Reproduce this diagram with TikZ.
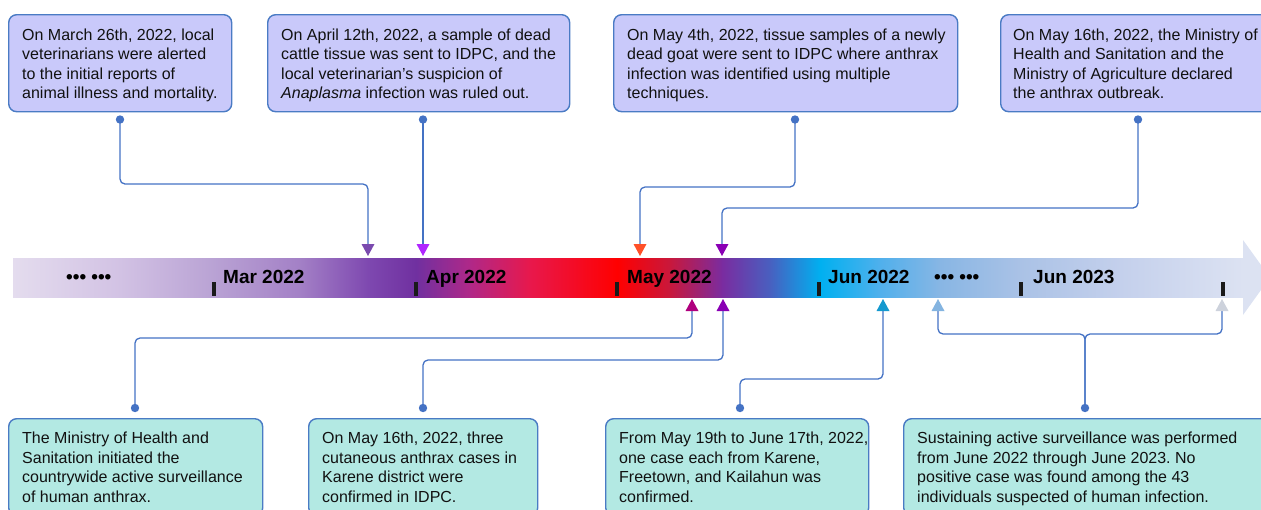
\documentclass[tikz,border=0pt]{standalone}
\usepackage{fontspec}
\setmainfont{Liberation Sans}
\frenchspacing
\definecolor{boxline}{HTML}{4A7BC4}
\definecolor{topfill}{HTML}{C9C9FA}
\definecolor{botfill}{HTML}{B3E9E3}
\definecolor{connc}{HTML}{4472C4}
\definecolor{textc}{HTML}{111111}
\definecolor{tickc}{HTML}{1A1A1A}
\definecolor{s0}{HTML}{E4DCEE}
\definecolor{s1}{HTML}{D2C2E4}
\definecolor{s2}{HTML}{B9A2D4}
\definecolor{s3}{HTML}{A380C6}
\definecolor{s4}{HTML}{7E48B0}
\definecolor{s5}{HTML}{7030A0}
\definecolor{s6}{HTML}{B02888}
\definecolor{s7}{HTML}{E8184C}
\definecolor{s8}{HTML}{FF0000}
\definecolor{s9}{HTML}{C8183C}
\definecolor{s10}{HTML}{7A2CA0}
\definecolor{s11}{HTML}{4860C0}
\definecolor{s12}{HTML}{00B0F0}
\definecolor{s13}{HTML}{50B0EC}
\definecolor{s14}{HTML}{88B6E4}
\definecolor{s15}{HTML}{AAC2E6}
\definecolor{s16}{HTML}{C4D0EC}
\definecolor{s17}{HTML}{DCE2F2}
\definecolor{ar1}{HTML}{7A4AAE}
\definecolor{ar2}{HTML}{B026FF}
\definecolor{ar3}{HTML}{FF5028}
\definecolor{ar4}{HTML}{8A00B4}
\definecolor{ar5}{HTML}{B0007E}
\definecolor{ar6}{HTML}{8A00B4}
\definecolor{ar7}{HTML}{1499CF}
\definecolor{ar8}{HTML}{84B4E0}
\definecolor{ar9}{HTML}{CDD2DC}
\begin{document}
\begin{tikzpicture}[x=1pt,y=-1pt,
  boxbase/.style={draw=boxline, line width=1.4pt, rounded corners=8pt, anchor=north west, minimum height=97pt, inner sep=0pt},
  topbox/.style={boxbase, fill=topfill},
  botbox/.style={boxbase, fill=botfill},
  txt/.style={anchor=north west, align=left, inner sep=0pt, text=textc, font=\fontsize{16}{19.5}\selectfont},
  lbl/.style={anchor=base west, inner sep=0pt, text=black, font=\fontsize{19}{22}\selectfont\bfseries},
  conn/.style={draw=connc, line width=1.3pt, rounded corners=5pt},
  dotc/.style={fill=connc},
  tick/.style={fill=tickc}
]
\useasboundingbox (0,0) rectangle (1261,509);
\clip (0,0) rectangle (1261,509);

% ---- timeline bar ----
\fill[left color=s0, right color=s1] (13,258) rectangle (120.5,297);
\fill[left color=s1, right color=s2] (120,258) rectangle (214.5,297);
\fill[left color=s2, right color=s3] (214,258) rectangle (300.5,297);
\fill[left color=s3, right color=s4] (300,258) rectangle (368.5,297);
\fill[left color=s4, right color=s5] (368,258) rectangle (416.5,297);
\fill[left color=s5, right color=s6] (416,258) rectangle (470.5,297);
\fill[left color=s6, right color=s7] (470,258) rectangle (530.5,297);
\fill[left color=s7, right color=s8] (530,258) rectangle (617.5,297);
\fill[left color=s8, right color=s9] (617,258) rectangle (670.5,297);
\fill[left color=s9, right color=s10] (670,258) rectangle (722.5,297);
\fill[left color=s10, right color=s11] (722,258) rectangle (770.5,297);
\fill[left color=s11, right color=s12] (770,258) rectangle (820.5,297);
\fill[left color=s12, right color=s13] (820,258) rectangle (880.5,297);
\fill[left color=s13, right color=s14] (880,258) rectangle (940.5,297);
\fill[left color=s14, right color=s15] (940,258) rectangle (1020.5,297);
\fill[left color=s15, right color=s16] (1020,258) rectangle (1120.5,297);
\fill[left color=s16, right color=s17] (1120,258) rectangle (1243.5,297);
\fill[s17] (1243,240) -- (1270,277.5) -- (1243,315) -- cycle;

% ticks
\foreach \tx in {214,416,617,819,1021,1223}
  \fill[tick] (\tx-1.7,282) rectangle (\tx+1.7,296);

% bar labels
\node[lbl] (ldots1) at (66,283) {••• •••};
\node[lbl] (lmar) at (223,283) {Mar 2022};
\node[lbl] (lapr) at (426,283) {Apr 2022};
\node[lbl] (lmay) at (627,283) {May 2022};
\node[lbl] (ljun) at (828,283) {Jun 2022};
\node[lbl] (ldots2) at (934,283) {••• •••};
\node[lbl] (ljun3) at (1033,283) {Jun 2023};

% ---- top boxes ----
\node[topbox, minimum width=223pt] (t1) at (8,14) {};
\node[txt] (t1x) at (22,28.3) {On March 26th, 2022, local\\veterinarians were alerted\\to the initial reports of\\animal illness and mortality.};
\node[topbox, minimum width=302pt] (t2) at (267,14) {};
\node[txt] (t2x) at (281,28.3) {On April 12th, 2022, a sample of dead\\cattle tissue was sent to IDPC, and the\\local veterinarian’s suspicion of\\\textit{Anaplasma} infection was ruled out.};
\node[topbox, minimum width=344pt] (t3) at (613,14) {};
\node[txt] (t3x) at (627,28.3) {On May 4th, 2022, tissue samples of a newly\\dead goat were sent to IDPC where anthrax\\infection was identified using multiple\\techniques.};
\node[topbox, minimum width=275pt] (t4) at (1000,14) {};
\node[txt] (t4x) at (1013,28.3) {On May 16th, 2022, the Ministry of\\Health and Sanitation and the\\Ministry of Agriculture declared\\the anthrax outbreak.};

% ---- bottom boxes ----
\node[botbox, minimum width=254pt] (b1) at (8,418) {};
\node[txt] (b1x) at (22,432) {The Ministry of Health and\\Sanitation initiated the\\countrywide active surveillance\\of human anthrax.};
\node[botbox, minimum width=229pt] (b2) at (308,418) {};
\node[txt] (b2x) at (322,432) {On May 16th, 2022, three\\cutaneous anthrax cases in\\Karene district were\\confirmed in IDPC.};
\node[botbox, minimum width=263pt] (b3) at (605,418) {};
\node[txt] (b3x) at (619,432) {From May 19th to June 17th, 2022,\\one case each from Karene,\\Freetown, and Kailahun was\\confirmed.};
\node[botbox, minimum width=380pt] (b4) at (903,418) {};
\node[txt] (b4x) at (917,432) {Sustaining active surveillance was performed\\from June 2022 through June 2023. No\\positive case was found among the 43\\individuals suspected of human infection.};

% ---- coordinates ----
\coordinate (d1) at (120,119.5);
\coordinate (d2) at (423,119.5);
\coordinate (d3) at (795,119.5);
\coordinate (d4) at (1138,119.5);
\coordinate (y1) at (0,184);
\coordinate (y3) at (0,187);
\coordinate (y4) at (0,208);
\coordinate (p1) at (368,256);
\coordinate (p2) at (423,256);
\coordinate (p3) at (640,256);
\coordinate (p4) at (722,256);
\coordinate (h1) at (368,245);
\coordinate (h2) at (423,245);
\coordinate (h3) at (640,245);
\coordinate (h4) at (722,245);

\coordinate (dA) at (135,408);
\coordinate (dB) at (423,408);
\coordinate (dC) at (740,408);
\coordinate (dD) at (1085,408);
\coordinate (yA) at (0,338);
\coordinate (yB) at (0,360);
\coordinate (yC) at (0,379);
\coordinate (yD) at (0,334);
\coordinate (pA) at (692,299);
\coordinate (pB) at (723,299);
\coordinate (pC) at (883,299);
\coordinate (pD1) at (938,299);
\coordinate (pD2) at (1222,299);
\coordinate (hA) at (692,310);
\coordinate (hB) at (723,310);
\coordinate (hC) at (883,310);
\coordinate (hD1) at (938,310);
\coordinate (hD2) at (1222,310);

% ---- connectors (top) ----
\draw[conn] (d1) -- (d1 |- y1) -| (h1);
\draw[conn] (d2) -- (h2);
\draw[conn] (d3) -- (d3 |- y3) -| (h3);
\draw[conn] (d4) -- (d4 |- y4) -| (h4);
% ---- connectors (bottom) ----
\draw[conn] (dA) -- (dA |- yA) -| (hA);
\draw[conn] (dB) -- (dB |- yB) -| (hB);
\draw[conn] (dC) -- (dC |- yC) -| (hC);
\draw[conn] (dD) -- (dD |- yD) -| (hD1);
\draw[conn] (dD) -- (dD |- yD) -| (hD2);

% dots
\foreach \d in {d1,d2,d3,d4,dA,dB,dC,dD}
  \fill[dotc] (\d) circle (4.2);

% arrowheads
\fill[ar1] (p1) -- ++(-6.5,-12) -- ++(13,0) -- cycle;
\fill[ar2] (p2) -- ++(-6.5,-12) -- ++(13,0) -- cycle;
\fill[ar3] (p3) -- ++(-6.5,-12) -- ++(13,0) -- cycle;
\fill[ar4] (p4) -- ++(-6.5,-12) -- ++(13,0) -- cycle;
\fill[ar5] (pA) -- ++(-6.5,12) -- ++(13,0) -- cycle;
\fill[ar6] (pB) -- ++(-6.5,12) -- ++(13,0) -- cycle;
\fill[ar7] (pC) -- ++(-6.5,12) -- ++(13,0) -- cycle;
\fill[ar8] (pD1) -- ++(-6.5,12) -- ++(13,0) -- cycle;
\fill[ar9] (pD2) -- ++(-6.5,12) -- ++(13,0) -- cycle;
\end{tikzpicture}
\end{document}
